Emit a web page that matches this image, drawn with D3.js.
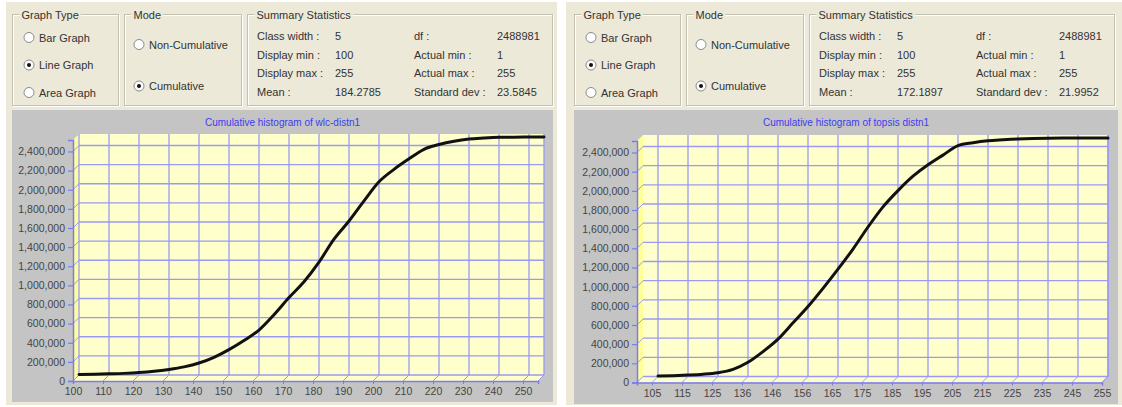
<!DOCTYPE html>
<html><head><meta charset="utf-8">
<script src="https://cdn.jsdelivr.net/npm/d3@7"></script>
<style>html,body{margin:0;padding:0;background:#fff;} svg{display:block;font-family:"Liberation Sans",Arial,sans-serif;}</style>
</head><body><svg id="c" width="1122" height="407"></svg>
<script>
// ---------- data ----------
const wlcClasses = [100,105,110,115,120,125,130,135,140,145,150,155,160,165,170,175,180,185,190,195,200,205,210,215,220,225,230,235,240,245,250,255];
const wlcCumulative = [5000,8000,12000,17000,25000,38000,58000,85000,125000,185000,265000,360000,470000,630000,810000,975000,1180000,1420000,1610000,1820000,2020000,2150000,2260000,2360000,2410000,2445000,2468000,2478000,2485000,2487000,2488000,2489000];
const topsisClasses = [105,110,115,120,125,130,135,140,145,150,155,160,165,170,175,180,185,190,195,200,205,210,215,220,225,230,235,240,245,250,255];
const topsisCumulative = [5000,9000,15000,24000,40000,75000,148000,260000,390000,560000,730000,920000,1120000,1330000,1560000,1770000,1940000,2090000,2210000,2310000,2410000,2440000,2460000,2470000,2478000,2483000,2486000,2488000,2488500,2489000,2489000];
const yTickValues = [0,200000,400000,600000,800000,1000000,1200000,1400000,1600000,1800000,2000000,2200000,2400000];
const wlcXTicks = [100,110,120,130,140,150,160,170,180,190,200,210,220,230,240,250];
const wlcXTickLabels = ["100","110","120","130","140","150","160","170","180","190","200","210","220","230","240","250"];
const topsisXTicks = [105,115,125,135,145,155,165,175,185,195,205,215,225,235,245,255];
const topsisXTickLabels = ["105","115","125","136","146","156","165","175","185","195","205","215","225","235","245","255"];
const graphTypes = ["Bar Graph","Line Graph","Area Graph"];
const modes = ["Non-Cumulative","Cumulative"];
const wlcStats = [["Class width :","5","df :","2488981"],["Display min :","100","Actual min :","1"],["Display max :","255","Actual max :","255"],["Mean :","184.2785","Standard dev :","23.5845"]];
const topsisStats = [["Class width :","5","df :","2488981"],["Display min :","100","Actual min :","1"],["Display max :","255","Actual max :","255"],["Mean :","172.1897","Standard dev :","21.9952"]];
const titles = ["Cumulative histogram of wlc-distn1","Cumulative histogram of topsis distn1"];

// ---------- layout ----------
const panels = [
  {bx:6, bw:551, gx:12, gw:541, gh:292, backL:79, backR:544, y0:375, yTop:134, classes:wlcClasses, values:wlcCumulative, xt:wlcXTicks, xl:wlcXTickLabels, stats:wlcStats, title:titles[0]},
  {bx:566, bw:556, gx:574, gw:544, gh:294, backL:643, backR:1108, y0:376.5, yTop:135, classes:topsisClasses, values:topsisCumulative, xt:topsisXTicks, xl:topsisXTickLabels, stats:topsisStats, title:titles[1]}
];
const svg = d3.select("#c");
const GRID = "#9a9af5", AXIS="#7b7bf0", DEPTH = 6, TXT="#333";

function groupBox(g, x, y, w, h, label){
  g.append("rect").attr("x",x+1).attr("y",y+1).attr("width",w).attr("height",h).attr("fill","none").attr("stroke","#fff");
  g.append("rect").attr("x",x).attr("y",y).attr("width",w).attr("height",h).attr("fill","none").attr("stroke","#c3c0b0");
  const t = g.append("text").attr("x",x+9).attr("y",y+4).attr("font-size",11).attr("fill",TXT).text(label);
  const bb = t.node().getBBox();
  g.insert("rect", "text:last-of-type").attr("x",bb.x-2).attr("y",y-2).attr("width",bb.width+4).attr("height",5).attr("fill","#ece9d8");
}
function radio(g, x, y, label, on){
  g.append("circle").attr("cx",x).attr("cy",y).attr("r",5).attr("fill","#fff").attr("stroke","#8a8a8a");
  if(on) g.append("circle").attr("cx",x).attr("cy",y).attr("r",2).attr("fill","#111");
  g.append("text").attr("x",x+10).attr("y",y+4).attr("font-size",11).attr("fill",TXT).text(label);
}

panels.forEach(p=>{
  const g = svg.append("g");
  g.append("rect").attr("x",p.bx).attr("y",2).attr("width",p.bw).attr("height",403).attr("fill","#ece9d8");
  const ox = p.gx;
  groupBox(g, ox+0.5, 14.5, 106, 91, "Graph Type");
  graphTypes.forEach((t,i)=>radio(g, ox+17, 37.5+i*27.5, t, i===1));
  groupBox(g, ox+112.5, 14.5, 117, 91, "Mode");
  modes.forEach((t,i)=>radio(g, ox+127, 44.5+i*41.5, t, i===1));
  groupBox(g, ox+235.5, 14.5, 305, 91, "Summary Statistics");
  p.stats.forEach((row,i)=>{
    const yy = 40 + i*18.7;
    [10,88,167,250].forEach((dx,j)=>{
      g.append("text").attr("x",ox+235+dx).attr("y",yy).attr("font-size",11).attr("fill",TXT).text(row[j]);
    });
  });
  // chart area
  g.append("rect").attr("x",ox).attr("y",110).attr("width",p.gw).attr("height",p.gh).attr("fill","#c4c4c4");
  g.append("text").attr("x",ox+p.gw/2).attr("y",126).attr("text-anchor","middle").attr("font-size",10).attr("fill","#3c3cf0").text(p.title);

  const x = d3.scaleLinear().domain([100,255]).range([p.backL,p.backR]);
  const y = d3.scaleLinear().domain([0,2520000]).range([p.y0,p.yTop]);
  const fL = p.backL-DEPTH;
  g.append("rect").attr("x",p.backL).attr("y",p.yTop).attr("width",p.backR-p.backL).attr("height",p.y0-p.yTop).attr("fill","#ffffcc");
  g.append("polygon").attr("points",[[p.backL,p.yTop],[p.backL,p.y0],[fL,p.y0+DEPTH],[fL,p.yTop+DEPTH]].join(" ")).attr("fill","#ffff99");
  g.append("polygon").attr("points",[[p.backL,p.y0],[p.backR,p.y0],[p.backR-DEPTH,p.y0+DEPTH],[fL,p.y0+DEPTH]].join(" ")).attr("fill","#ffffcc");
  yTickValues.forEach(v=>{
    const yy=y(v);
    g.append("line").attr("x1",p.backL).attr("x2",p.backR).attr("y1",yy).attr("y2",yy).attr("stroke",GRID).attr("stroke-width",1.3);
    g.append("line").attr("x1",p.backL).attr("x2",fL).attr("y1",yy).attr("y2",yy+DEPTH).attr("stroke",GRID).attr("stroke-width",1);
  });
  p.xt.forEach(v=>{
    const xx=x(v);
    g.append("line").attr("x1",xx).attr("x2",xx).attr("y1",p.yTop).attr("y2",p.y0).attr("stroke",GRID).attr("stroke-width",1.3);
    g.append("line").attr("x1",xx).attr("x2",xx-DEPTH).attr("y1",p.y0).attr("y2",p.y0+DEPTH).attr("stroke",GRID).attr("stroke-width",1);
  });
  g.append("line").attr("x1",p.backR).attr("x2",p.backR).attr("y1",p.yTop).attr("y2",p.y0).attr("stroke",GRID).attr("stroke-width",1.3);
  g.append("line").attr("x1",p.backR).attr("x2",p.backR-DEPTH).attr("y1",p.y0).attr("y2",p.y0+DEPTH).attr("stroke",GRID);

  const yFront = d3.scaleLinear().domain(y.domain()).range([p.y0+DEPTH,p.yTop+DEPTH]);
  const yAxis = g.append("g").attr("transform",`translate(${fL},0)`)
    .call(d3.axisLeft(yFront).tickValues(yTickValues).tickFormat(d3.format(",")).tickSize(5).tickPadding(3));
  yAxis.select(".domain").attr("stroke",AXIS).attr("stroke-width",1.5);
  yAxis.selectAll(".tick line").attr("stroke",AXIS).attr("stroke-width",1.2);
  yAxis.selectAll("text").attr("font-size",10.5).attr("fill","#444").attr("font-family","Liberation Sans, Arial, sans-serif");

  const xFront = d3.scaleLinear().domain(x.domain()).range([p.backL-DEPTH,p.backR-DEPTH]);
  const xAxis = g.append("g").attr("transform",`translate(0,${p.y0+DEPTH})`)
    .call(d3.axisBottom(xFront).tickValues(p.xt).tickFormat((d,i)=>p.xl[i]).tickSize(3).tickPadding(4));
  xAxis.select(".domain").attr("stroke",AXIS).attr("stroke-width",1.5);
  xAxis.selectAll(".tick line").attr("stroke",AXIS);
  xAxis.selectAll("text").attr("font-size",10.5).attr("fill","#444").attr("font-family","Liberation Sans, Arial, sans-serif");

  const line = d3.line().x((d,i)=>x(p.classes[i])).y(d=>y(d)).curve(d3.curveMonotoneX);
  g.append("path").datum(p.values).attr("d",line).attr("fill","none").attr("stroke","#111").attr("stroke-width",3).attr("stroke-linejoin","round").attr("stroke-linecap","round");
});
</script></body></html>
